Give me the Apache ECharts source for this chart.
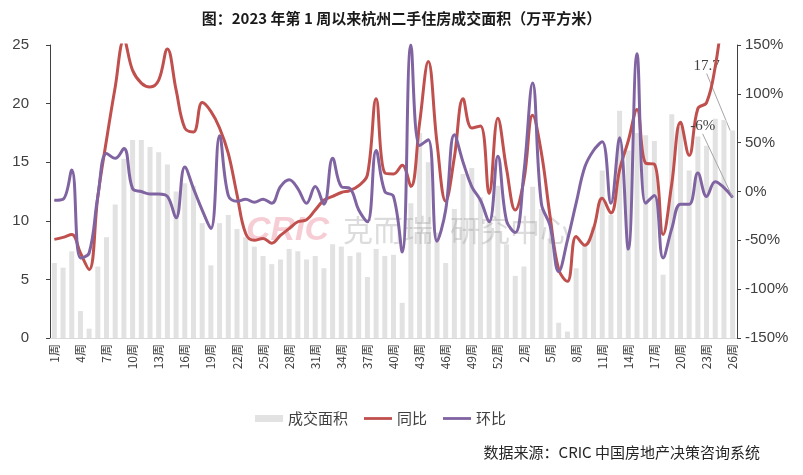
<!DOCTYPE html>
<html><head><meta charset="utf-8">
<script src="https://cdn.jsdelivr.net/npm/echarts@6/dist/echarts.min.js"></script>
<style>html,body{margin:0;padding:0;background:#fff}#c{width:803px;height:475px}</style>
</head><body><div id="c"></div>
<script>
// Week categories: 2023 wk1..wk53, 2024 wk1..wk26
const weeks2023 = 53;
const weeks2024 = 26;
const categories = [];
for (let w = 1; w <= weeks2023; w++) categories.push(w + '周');
for (let w = 1; w <= weeks2024; w++) categories.push(w + '周');

// 成交面积 (万平方米)
const area = [6.4,6.0,7.4,2.3,0.8,6.1,8.6,11.4,15.3,16.9,
  16.9,16.3,15.85,14.8,12.5,13.2,13.0,9.8,6.2,9.8,
  10.5,9.3,8.6,7.8,7.0,6.3,6.7,7.6,7.4,6.7,
  7.0,5.95,8.0,7.8,7.0,7.3,5.2,7.6,7.0,7.1,
  3.0,11.5,17.5,15.0,9.0,6.4,11.0,14.0,14.5,12.0,
  10.0,13.0,8.0,5.3,6.1,12.9,11.0,8.5,1.3,0.55,
  5.95,8.0,9.5,14.3,10.5,19.4,16.0,17.5,17.3,16.8,
  5.4,19.1,18.0,14.3,17.2,16.4,18.7,18.6,17.7];

// 同比 (%)
const yoy = [-49,-47,-44,-63,-80,-5,53,107,155,124,
  111,107,114,146,104,65,61,91,82,65,
  39,-3,-43,-50,-48,-53,-45,-38,-31,-29,
  -19,-9,-5,-1,1,6,17,95,19,18,
  27,5,70,133,50,-10,35,95,65,67,
  -2,75,23,-19,12,78,40,-25,-80,-92,
  -46,-55,-38,-7,-22,22,52,84,29,28,
  -44,8,71,37,85,91,128,190,240];

// 环比 (%)
const wow = [-9,-8,22,-68,-63,-5,39,34,44,3,
  0,-2.5,-2.5,-5,-27,25,3,-19,-38,57,
  -4,-10,-8,-11,-8,-12,5,12,3,-12,
  5,-13,34,5,3,-19,-31,42,0,-5,
  -62,150,47,53,-51,-19,58,30,5,-9,
  -31,36,-30,-42,20,111,-12,-35,-82,-50,
  -12,25,42,51,-12,55,-59,141,-12,-4,
  -68,-38,-13,-13,19,-5,10,4,-6];

const leftTicks = {min: 0, max: 25, step: 5};
const rightTicks = {min: -150, max: 150, step: 50};

const lastIdx = categories.length - 1;
const withLastLabel = arr => arr.map((v, i) => i === lastIdx ? {value: v, label: {show: true}} : v);

const chart = echarts.init(document.getElementById('c'), null, {renderer: 'canvas'});
const cjk = '"Noto Sans CJK SC", "Liberation Sans", sans-serif';
const lineIcon = 'path://M0,0 L30,0 L30,3 L0,3 Z';
chart.setOption({
  animation: false,
  backgroundColor: '#ffffff',
  title: {
    text: '图：2023 年第 1 周以来杭州二手住房成交面积（万平方米）',
    left: 'center', top: 6,
    textStyle: {fontFamily: cjk, fontSize: 15, fontWeight: 'bold', color: '#1a1a1a'}
  },
  legend: {
    top: 406, left: 250,
    itemWidth: 28, itemHeight: 7, itemGap: 16,
    textStyle: {fontFamily: cjk, fontSize: 15, color: '#404040'},
    data: [
      {name: '成交面积', icon: 'rect'},
      {name: '同比', icon: lineIcon},
      {name: '环比', icon: lineIcon}
    ]
  },
  graphic: [
    {type: 'text', left: 246, top: 214, z: 3, silent: true,
     style: {text: 'CRIC', fontSize: 34, fontWeight: 'bold', fontStyle: 'italic', fontFamily: '"Liberation Sans", sans-serif', fill: 'rgba(236,130,150,0.40)'}},
    {type: 'text', left: 343, top: 215, z: 3, silent: true,
     style: {text: '克而瑞', fontSize: 30, fontFamily: cjk, fill: 'rgba(150,150,150,0.33)'}},
    {type: 'text', left: 450, top: 215, z: 3, silent: true,
     style: {text: '研究中心', fontSize: 30, fontFamily: cjk, fill: 'rgba(150,150,150,0.33)'}},
    {type: 'text', right: 43, bottom: 15, silent: true,
     style: {text: '数据来源：CRIC 中国房地产决策咨询系统', fontSize: 15, fontFamily: cjk, fill: '#262626'}}
  ],
  grid: {left: 50, right: 66, top: 45, bottom: 137},
  xAxis: {
    type: 'category', data: categories,
    axisLine: {show: true, lineStyle: {color: '#d9d9d9'}},
    axisTick: {show: false},
    axisLabel: {interval: 2, rotate: 90, fontFamily: cjk, fontSize: 12, color: '#404040', margin: 6}
  },
  yAxis: [
    {type: 'value', min: leftTicks.min, max: leftTicks.max, interval: leftTicks.step,
     splitLine: {show: false},
     axisLine: {show: true, lineStyle: {color: '#404040'}},
     axisTick: {show: true, length: 4, lineStyle: {color: '#404040'}},
     axisLabel: {fontFamily: '"Liberation Sans", sans-serif', fontSize: 15, color: '#404040', margin: 21}},
    {type: 'value', min: rightTicks.min, max: rightTicks.max, interval: rightTicks.step,
     splitLine: {show: false},
     axisLine: {show: true, lineStyle: {color: '#404040'}},
     axisTick: {show: true, length: 4, lineStyle: {color: '#404040'}},
     axisLabel: {fontFamily: '"Liberation Sans", sans-serif', fontSize: 15, color: '#404040', margin: 8,
       formatter: '{value}%'}}
  ],
  series: [
    {name: '成交面积', type: 'bar', yAxisIndex: 0, barWidth: 5, z: 2,
     itemStyle: {color: '#e2e2e2'},
     data: withLastLabel(area),
     label: {show: false, position: 'top', fontFamily: '"Liberation Serif", serif', fontSize: 15, color: '#404040'},
     labelLayout: p => p.dataIndex === lastIdx ? {dx: -26, dy: -52} : {},
     labelLine: {show: true, lineStyle: {color: '#a6a6a6', width: 1}}},
    {name: '同比', type: 'line', yAxisIndex: 1, smooth: 0.4, symbol: 'none', z: 4,
     lineStyle: {color: '#c0504d', width: 3}, itemStyle: {color: '#c0504d'},
     data: yoy},
    {name: '环比', type: 'line', yAxisIndex: 1, smooth: 0.4, z: 5,
     symbol: 'circle', symbolSize: 1, showSymbol: true,
     lineStyle: {color: '#8064a2', width: 3}, itemStyle: {color: '#8064a2'},
     data: withLastLabel(wow),
     label: {show: false, position: 'top', fontFamily: '"Liberation Serif", serif', fontSize: 15, color: '#404040',
       formatter: p => Math.round(p.value) + '%'},
     labelLayout: p => p.dataIndex === lastIdx ? {dx: -30, dy: -58} : {},
     labelLine: {show: true, lineStyle: {color: '#a6a6a6', width: 1}}}
  ]
});
</script>
</body></html>
